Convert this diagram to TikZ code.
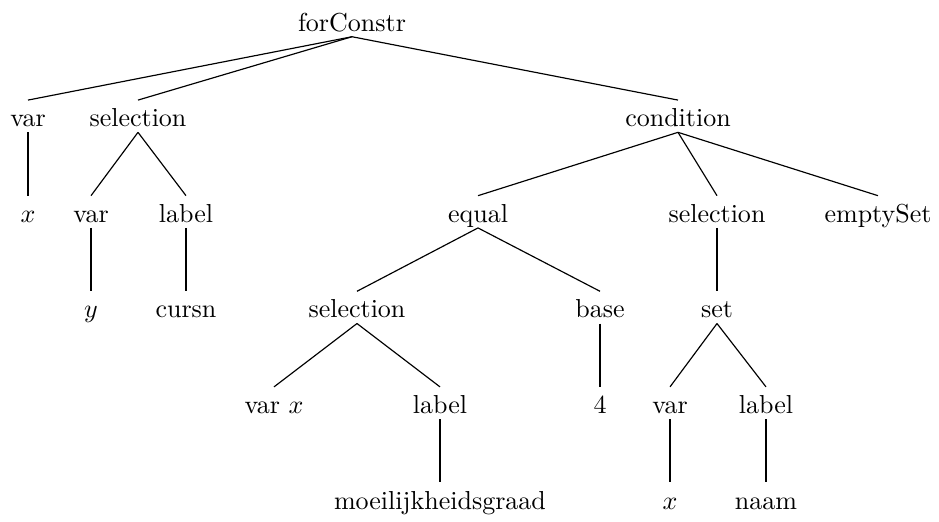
\documentclass[tikz,border=0pt]{standalone}
\begin{document}
\begin{tikzpicture}[x=0.3846pt,y=-0.3846pt,
  tn/.style={anchor=base,text height=8pt,text depth=0pt,inner xsep=1pt,inner ysep=2pt},
  edge/.style={draw,line width=0.45pt}]
\useasboundingbox (0,0) rectangle (939,521);
% level 0
\node[tn] (root) at (352,31) {forConstr};
% level 1
\node[tn] (v1) at (28,126.6) {var};
\node[tn] (s1) at (138,126.6) {selection};
\node[tn] (cond) at (678,126.6) {condition};
% level 2
\node[tn] (x1) at (28,222.2) {$x$};
\node[tn] (v2) at (91,222.2) {var};
\node[tn] (l2) at (186,222.2) {label};
\node[tn] (eq) at (478,222.2) {equal};
\node[tn] (s2) at (717,222.2) {selection};
\node[tn] (es) at (878,222.2) {emptySet};
% level 3
\node[tn] (y3) at (91,317.8) {$y$};
\node[tn] (cu) at (186,317.8) {cursn};
\node[tn] (s3) at (357,317.8) {selection};
\node[tn] (ba) at (600,317.8) {base};
\node[tn] (st) at (717,317.8) {set};
% level 4
\node[tn] (vx) at (274,413.4) {var $x$};
\node[tn] (l4) at (440,413.4) {label};
\node[tn] (four) at (600,413.4) {4};
\node[tn] (v4) at (670,413.4) {var};
\node[tn] (l4b) at (766,413.4) {label};
% level 5
\node[tn] (mo) at (440,509) {moeilijkheidsgraad};
\node[tn] (x5) at (670,509) {$x$};
\node[tn] (na) at (766,509) {naam};
% edges
\foreach \p/\c in {root/v1,root/s1,root/cond,
  v1/x1,s1/v2,s1/l2,v2/y3,l2/cu,
  cond/eq,cond/s2,cond/es,
  eq/s3,eq/ba,s2/st,
  s3/vx,s3/l4,l4/mo,ba/four,
  st/v4,st/l4b,v4/x5,l4b/na}
  \path[edge] (\p.south) -- (\c.north);
\end{tikzpicture}
\end{document}
